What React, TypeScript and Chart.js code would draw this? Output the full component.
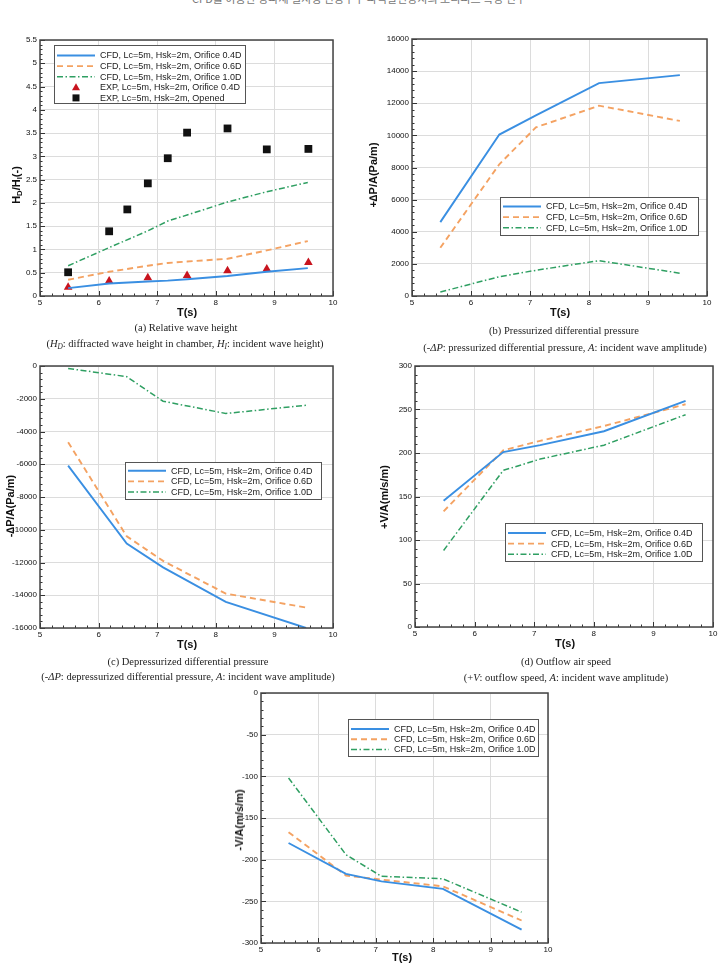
import React, { useEffect, useRef } from 'react';
import { Chart, registerables } from 'chart.js';

Chart.register(...registerables);

// ---------- DATA ----------
// (a) Relative wave height
const T_A_CFD = [5.48, 6.18, 6.84, 7.18, 7.51, 8.2, 8.87, 9.57];
const A_CFD_04 = [0.17, 0.27, 0.31, 0.33, 0.36, 0.43, 0.52, 0.6];
const A_CFD_06 = [0.35, 0.52, 0.65, 0.71, 0.74, 0.8, 0.98, 1.18];
const A_CFD_10 = [0.65, 1.04, 1.4, 1.61, 1.74, 2.02, 2.24, 2.44];
const T_A_EXP04 = [5.48, 6.18, 6.84, 7.51, 8.2, 8.87, 9.58];
const A_EXP_04 = [0.19, 0.32, 0.39, 0.44, 0.54, 0.58, 0.72];
const T_A_OPEN = [5.48, 6.18, 6.49, 6.84, 7.18, 7.51, 8.2, 8.87, 9.58];
const A_EXP_OPEN = [0.51, 1.39, 1.86, 2.42, 2.96, 3.51, 3.6, 3.15, 3.16];

// common periods for panels (b)-(e)
const T_CFD = [5.48, 6.48, 7.1, 8.17, 9.54];
// (b) Pressurized differential pressure
const B_04 = [4600, 10050, 11250, 13250, 13750];
const B_06 = [3000, 8200, 10500, 11850, 10900];
const B_10 = [250, 1200, 1600, 2200, 1420];
// (c) Depressurized differential pressure
const C_04 = [-6080, -10850, -12300, -14400, -16000];
const C_06 = [-4650, -10400, -11900, -13900, -14750];
const C_10 = [-150, -650, -2150, -2900, -2400];
// (d) Outflow air speed
const D_04 = [145, 201, 209, 225, 260];
const D_06 = [133, 203, 214, 231, 256];
const D_10 = [88, 180, 193, 209, 244];
// (e) Inflow air speed
const E_04 = [-180, -217, -226, -235, -284];
const E_06 = [-167, -219, -224, -232, -273];
const E_10 = [-102, -194, -220, -223, -263];

const LBL_CFD04 = 'CFD, Lc=5m, Hsk=2m, Orifice 0.4D';
const LBL_CFD06 = 'CFD, Lc=5m, Hsk=2m, Orifice 0.6D';
const LBL_CFD10 = 'CFD, Lc=5m, Hsk=2m, Orifice 1.0D';
const LBL_EXP04 = 'EXP, Lc=5m, Hsk=2m, Orifice 0.4D';
const LBL_EXPOP = 'EXP, Lc=5m, Hsk=2m, Opened';

// ---------- STYLE ----------
const BLUE = '#3a8fe2';
const ORANGE = '#f4a262';
const GREEN = '#2f9f62';
const RED = '#c8141e';
const SANS = "'Liberation Sans', Arial, sans-serif";
const SERIF = "'Liberation Serif', 'Times New Roman', serif";

const pts = (xs: number[], ys: number[]) => xs.map((x, i) => ({ x, y: ys[i] }));

const cfdSets = (xs: number[], a: number[], b: number[], c: number[]) => [
  { label: LBL_CFD04, data: pts(xs, a), borderColor: BLUE, borderWidth: 1.9, pointRadius: 0, fill: false },
  { label: LBL_CFD06, data: pts(xs, b), borderColor: ORANGE, borderWidth: 1.9, borderDash: [6, 4], pointRadius: 0, fill: false },
  { label: LBL_CFD10, data: pts(xs, c), borderColor: GREEN, borderWidth: 1.5, borderDash: [6, 2.5, 1.5, 2.5], pointRadius: 0, fill: false },
];

const YW = 34, PAD_T = 8, PAD_R = 10, XH = 14;

const tecplot = {
  id: 'tecplot',
  afterDraw(chart: any, _args: any, opts: any) {
    const { ctx, chartArea: a, scales } = chart;
    const x = scales.x, y = scales.y;
    ctx.save();
    ctx.strokeStyle = '#333';
    ctx.lineWidth = 1;
    const ticks = (scale: any, step: number, minors: number, horiz: boolean) => {
      const sub = step / (minors + 1);
      const n = Math.round((scale.max - scale.min) / sub);
      for (let i = 0; i <= n; i++) {
        const v = scale.min + i * sub;
        const major = i % (minors + 1) === 0;
        const len = major ? 5 : 2.5;
        const p = Math.round(scale.getPixelForValue(v)) + 0.5;
        ctx.beginPath();
        if (horiz) {
          ctx.moveTo(p, a.bottom);
          ctx.lineTo(p, a.bottom - len);
        } else {
          ctx.moveTo(a.left, p);
          ctx.lineTo(a.left + len, p);
        }
        ctx.stroke();
      }
    };
    ticks(x, opts.xStep, 4, true);
    ticks(y, opts.yStep, 4, false);
    ctx.strokeStyle = '#444';
    ctx.lineWidth = 1.5;
    ctx.strokeRect(a.left, a.top, a.right - a.left, a.bottom - a.top);
    const lg = opts.legend;
    const bx = a.left + lg.x, by = a.top + lg.y;
    ctx.fillStyle = '#fff';
    ctx.fillRect(bx, by, lg.w, lg.h);
    ctx.strokeStyle = '#555';
    ctx.lineWidth = 1;
    ctx.strokeRect(bx + 0.5, by + 0.5, lg.w, lg.h);
    ctx.font = `9px ${SANS}`;
    ctx.textBaseline = 'middle';
    ctx.textAlign = 'left';
    chart.data.datasets.forEach((ds: any, i: number) => {
      const ry = by + lg.first + i * lg.gap;
      if (ds.showLine === false) {
        const cx = bx + 22;
        ctx.fillStyle = ds.backgroundColor;
        if (ds.pointStyle === 'triangle') {
          ctx.beginPath();
          ctx.moveTo(cx, ry - 4);
          ctx.lineTo(cx + 4, ry + 3);
          ctx.lineTo(cx - 4, ry + 3);
          ctx.closePath();
          ctx.fill();
        } else {
          ctx.fillRect(cx - 3.5, ry - 3.5, 7, 7);
        }
      } else {
        ctx.strokeStyle = ds.borderColor;
        ctx.lineWidth = ds.borderWidth;
        ctx.setLineDash(ds.borderDash || []);
        ctx.beginPath();
        ctx.moveTo(bx + 3, ry);
        ctx.lineTo(bx + 41, ry);
        ctx.stroke();
        ctx.setLineDash([]);
      }
      ctx.fillStyle = '#1a1a1a';
      ctx.fillText(ds.label, bx + lg.tx, ry + 0.5);
    });
    ctx.restore();
  },
};

type Spec = {
  rect: number[];
  yMin: number;
  yMax: number;
  yStep: number;
  datasets: any[];
  legend: any;
};

function Panel({ spec }: { spec: Spec }) {
  const ref = useRef<HTMLCanvasElement | null>(null);
  const [L, T, R, B] = spec.rect;
  const w = R - L + YW + PAD_R;
  const h = B - T + PAD_T + XH;
  useEffect(() => {
    const fmt = (v: any) => String(Math.round(Number(v) * 100) / 100);
    const chart = new Chart(ref.current as HTMLCanvasElement, {
      type: 'line',
      data: { datasets: spec.datasets },
      options: {
        animation: false,
        responsive: false,
        devicePixelRatio: 1,
        layout: { padding: { top: PAD_T, right: PAD_R, left: 0, bottom: 0 } },
        plugins: {
          legend: { display: false },
          tooltip: { enabled: false },
          tecplot: { xStep: 1, yStep: spec.yStep, legend: spec.legend },
        } as any,
        scales: {
          x: {
            type: 'linear',
            min: 5,
            max: 10,
            ticks: { stepSize: 1, padding: 2, autoSkip: false, maxRotation: 0, color: '#111', font: { family: SANS, size: 8 }, callback: fmt },
            grid: { color: '#dcdcdc', drawTicks: false },
            border: { display: false },
            afterFit: (s: any) => { s.height = XH; },
          },
          y: {
            type: 'linear',
            min: spec.yMin,
            max: spec.yMax,
            ticks: { stepSize: spec.yStep, padding: 3, autoSkip: false, color: '#111', font: { family: SANS, size: 8 }, callback: fmt },
            grid: { color: '#dcdcdc', drawTicks: false },
            border: { display: false },
            afterFit: (s: any) => { s.width = YW; },
          },
        } as any,
      },
      plugins: [tecplot],
    });
    return () => chart.destroy();
  }, []);
  return (
    <canvas
      ref={ref}
      width={w}
      height={h}
      style={{ position: 'absolute', left: L - YW, top: T - PAD_T, width: w, height: h }}
    />
  );
}

const specs: Spec[] = [
  {
    rect: [40, 40, 333, 296],
    yMin: 0, yMax: 5.5, yStep: 0.5,
    datasets: [
      ...cfdSets(T_A_CFD, A_CFD_04, A_CFD_06, A_CFD_10),
      { label: LBL_EXP04, data: pts(T_A_EXP04, A_EXP_04), showLine: false, pointStyle: 'triangle', pointRadius: 5, backgroundColor: RED, borderColor: RED, borderWidth: 0 },
      { label: LBL_EXPOP, data: pts(T_A_OPEN, A_EXP_OPEN), showLine: false, pointStyle: 'rect', pointRadius: 5.5, backgroundColor: '#111', borderColor: '#111', borderWidth: 0 },
    ],
    legend: { x: 14, y: 5, w: 191, h: 58, first: 10.5, gap: 10.6, tx: 46 },
  },
  {
    rect: [412, 39, 707, 296],
    yMin: 0, yMax: 16000, yStep: 2000,
    datasets: cfdSets(T_CFD, B_04, B_06, B_10),
    legend: { x: 88, y: 158, w: 198, h: 38, first: 9.5, gap: 10.6, tx: 46 },
  },
  {
    rect: [40, 366, 333, 628],
    yMin: -16000, yMax: 0, yStep: 2000,
    datasets: cfdSets(T_CFD, C_04, C_06, C_10),
    legend: { x: 85, y: 96, w: 196, h: 37, first: 8.8, gap: 10.6, tx: 46 },
  },
  {
    rect: [415, 366, 713, 627],
    yMin: 0, yMax: 300, yStep: 50,
    datasets: cfdSets(T_CFD, D_04, D_06, D_10),
    legend: { x: 90, y: 157, w: 197, h: 38, first: 10, gap: 10.6, tx: 46 },
  },
  {
    rect: [261, 693, 548, 943],
    yMin: -300, yMax: 0, yStep: 50,
    datasets: cfdSets(T_CFD, E_04, E_06, E_10),
    legend: { x: 87, y: 26, w: 190, h: 37, first: 10, gap: 10.2, tx: 46 },
  },
];

const abs = (extra: React.CSSProperties): React.CSSProperties => ({ position: 'absolute', whiteSpace: 'nowrap', ...extra });

function YTitle({ x, y, children }: { x: number; y: number; children: React.ReactNode }) {
  return (
    <div style={abs({ left: x, top: y, transform: 'translate(-50%, -50%) rotate(-90deg)', font: `bold 11px ${SANS}`, color: '#111', lineHeight: '12px' })}>
      {children}
    </div>
  );
}

function XTitle({ x, y }: { x: number; y: number }) {
  return (
    <div style={abs({ left: x, top: y, transform: 'translate(-50%, -50%)', font: `bold 11px ${SANS}`, color: '#111', lineHeight: '12px' })}>
      T(s)
    </div>
  );
}

function Caption({ x, y, children }: { x: number; y: number; children: React.ReactNode }) {
  return (
    <div style={abs({ left: x, top: y, transform: 'translate(-50%, -50%)', font: `10.5px ${SERIF}`, color: '#222', lineHeight: '12px' })}>
      {children}
    </div>
  );
}

const subStyle: React.CSSProperties = { fontSize: '0.7em', verticalAlign: '-0.25em', lineHeight: 0 };

export default function App() {
  return (
    <div style={{ position: 'absolute', left: 0, top: 0, width: 718, height: 972, overflow: 'hidden', background: '#fff' }}>
      <div style={abs({ left: 359, top: -8, transform: 'translateX(-50%)', font: `11px 'Noto Sans CJK KR', sans-serif`, color: '#777', lineHeight: '12px' })}>
        CFD를 이용한 방파제 설치형 진동수주 파력발전장치의 오리피스 특성 연구
      </div>
      {specs.map((s, i) => (
        <Panel key={i} spec={s} />
      ))}

      <YTitle x={16} y={185}>
        H<span style={subStyle}>D</span>/H<span style={subStyle}>I</span>(-)
      </YTitle>
      <YTitle x={373} y={175}>+∆P/A(Pa/m)</YTitle>
      <YTitle x={10} y={506}>-∆P/A(Pa/m)</YTitle>
      <YTitle x={384} y={497}>+V/A(m/s/m)</YTitle>
      <YTitle x={239} y={820}>-V/A(m/s/m)</YTitle>

      <XTitle x={187} y={312} />
      <XTitle x={560} y={312} />
      <XTitle x={187} y={644} />
      <XTitle x={565} y={643} />
      <XTitle x={402} y={957} />

      <Caption x={186} y={328}>(a) Relative wave height</Caption>
      <Caption x={185} y={344}>
        (<i>H<sub style={subStyle}>D</sub></i>: diffracted wave height in chamber, <i>H<sub style={subStyle}>I</sub></i>: incident wave height)
      </Caption>
      <Caption x={564} y={331}>(b) Pressurized differential pressure</Caption>
      <Caption x={565} y={348}>
        (-<i>ΔP</i>: pressurized differential pressure, <i>A</i>: incident wave amplitude)
      </Caption>
      <Caption x={188} y={662}>(c) Depressurized differential pressure</Caption>
      <Caption x={188} y={677}>
        (-<i>ΔP</i>: depressurized differential pressure, <i>A</i>: incident wave amplitude)
      </Caption>
      <Caption x={566} y={662}>(d) Outflow air speed</Caption>
      <Caption x={566} y={678}>
        (+<i>V</i>: outflow speed, <i>A</i>: incident wave amplitude)
      </Caption>
    </div>
  );
}
